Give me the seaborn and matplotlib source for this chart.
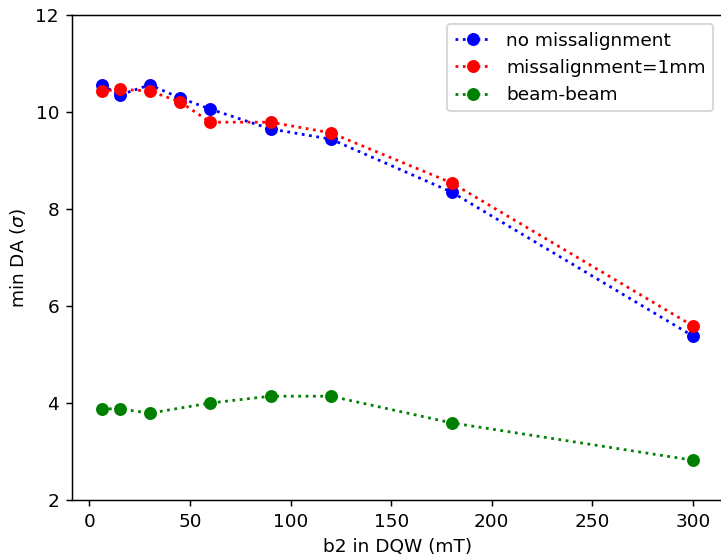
import matplotlib
matplotlib.use("Agg")
import matplotlib.pyplot as plt
import seaborn as sns
import pandas as pd

b2 = [6, 15, 30, 45, 60, 90, 120, 180, 300]
no_mis = [10.56, 10.35, 10.56, 10.29, 10.06, 9.65, 9.44, 8.35, 5.38]
mis_1mm = [10.43, 10.47, 10.43, 10.21, 9.79, 9.79, 9.57, 8.54, 5.59]
b2_bb = [6, 15, 30, 60, 90, 120, 180, 300]
beam_beam = [3.88, 3.88, 3.79, 4.00, 4.14, 4.14, 3.59, 2.82]

labels = ["no missalignment", "missalignment=1mm", "beam-beam"]
colors = ["blue", "red", "green"]

sns.set_style("ticks")
plt.rcParams["font.family"] = ["DejaVu Sans"]
plt.rcParams["text.color"] = "black"
plt.rcParams["axes.labelcolor"] = "black"
plt.rcParams["xtick.color"] = "black"
plt.rcParams["ytick.color"] = "black"

DPI = 133
fig = plt.figure(figsize=(721 / DPI, 556 / DPI), dpi=DPI)
ax = fig.add_axes([72 / 721, 56 / 556, (722.5 - 72) / 721, (500 - 15) / 556])

series = [(b2, no_mis), (b2, mis_1mm), (b2_bb, beam_beam)]
for (xs, ys), lab, c in zip(series, labels, colors):
    df = pd.DataFrame({"x": xs, "y": ys})
    sns.lineplot(data=df, x="x", y="y", ax=ax, color=c, linestyle=":",
                 marker="o", markersize=6, markeredgecolor=c,
                 markeredgewidth=1.0, linewidth=1.5, label=lab)

ax.set_ylim(2, 12)
ax.set_xlim(-8.7, 314.7)
ax.set_xlabel("b2 in DQW (mT)")
ax.set_ylabel(r"min DA ($\sigma$)")
ax.legend(loc="upper right")
for s in ax.spines.values():
    s.set_visible(True)
    s.set_color("black")
    s.set_linewidth(0.8)
ax.spines["right"].set_visible(False)
ax.tick_params(direction="out", length=3.5, width=0.8, color="black")

fig.savefig("out.png", dpi=DPI)
